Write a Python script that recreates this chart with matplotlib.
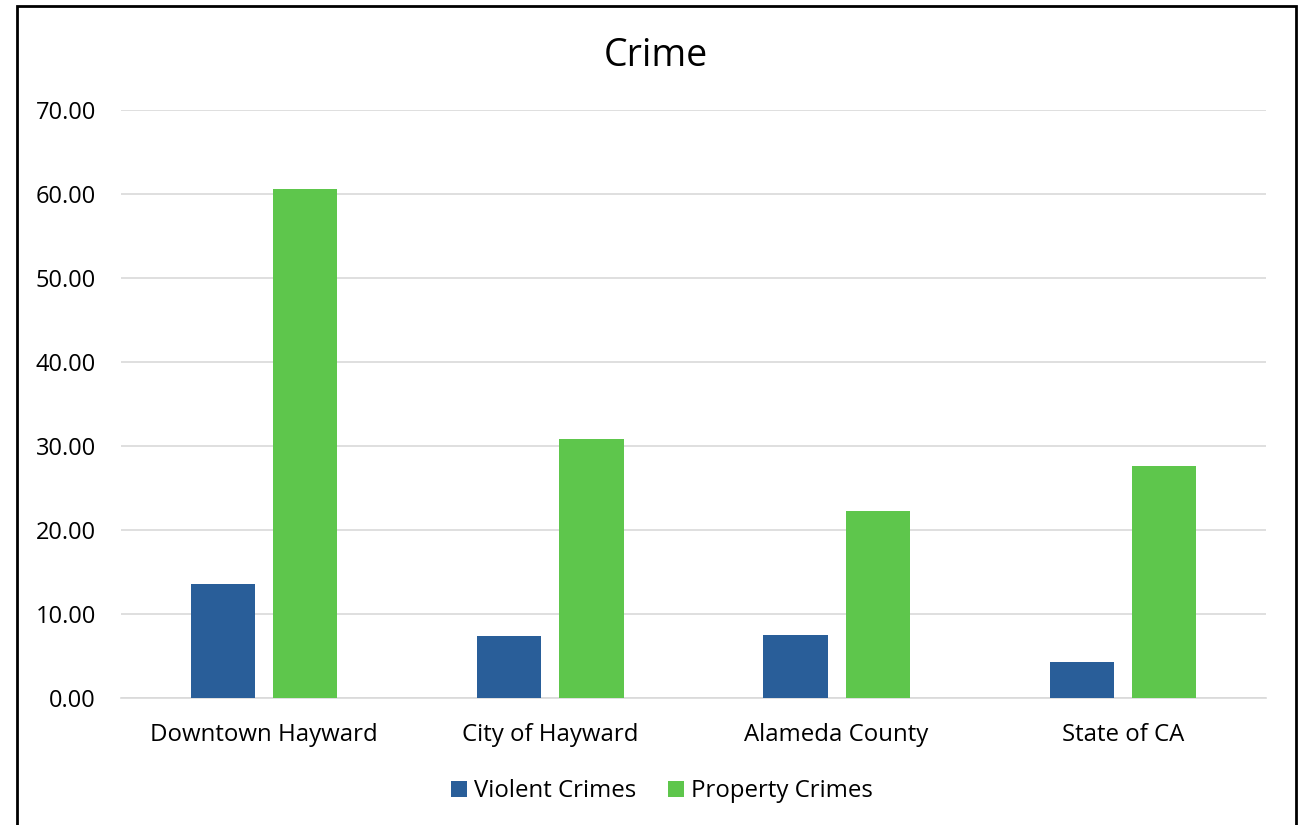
import numpy as np
import matplotlib.pyplot as plt
from matplotlib.patches import Rectangle

plt.rcParams['font.family'] = ['Open Sans', 'DejaVu Sans']

# data
categories = ['Downtown Hayward', 'City of Hayward', 'Alameda County', 'State of CA']
violent = [13.57, 7.38, 7.50, 4.29]
property_crimes = [60.60, 30.83, 22.26, 27.62]

blue = '#295e99'
green = '#5ec64c'

fig = plt.figure(figsize=(13.07, 8.25), dpi=100)
ax = fig.add_axes([0.0926, 0.1539, 0.876, 0.7127])

x = np.arange(len(categories))
w = 0.224
gap = 0.063
ax.bar(x - (w + gap) / 2, violent, w, color=blue, label='Violent Crimes', zorder=3)
ax.bar(x + (w + gap) / 2, property_crimes, w, color=green, label='Property Crimes', zorder=3)

ax.set_xlim(-0.5, len(categories) - 0.5)
ax.set_ylim(0, 70)
ax.set_yticks(np.arange(0, 71, 10))
ax.set_yticklabels([f'{v:.2f}' for v in np.arange(0, 71, 10)], fontsize=17)
ax.set_xticks(x)
ax.set_xticklabels(categories, fontsize=17.3)
ax.tick_params(axis='y', length=0, pad=18)
ax.tick_params(axis='x', length=0, pad=18)
ax.grid(axis='y', color='#d9d9d9', lw=1.2, zorder=0)
for s in ['top', 'right', 'left']:
    ax.spines[s].set_visible(False)
ax.spines['bottom'].set_color('#d9d9d9')
ax.spines['bottom'].set_linewidth(1.2)

fig.text(656 / 1307, 1 - 56 / 825, 'Crime', fontsize=27, ha='center', va='center')

fig.legend(loc='center', bbox_to_anchor=(662 / 1307, 1 - 791 / 825), ncol=2,
           frameon=False, fontsize=17.3, handlelength=0.65, handleheight=0.65,
           handletextpad=0.3, columnspacing=1.35)

# outer border
fig.patches.append(Rectangle((17 / 1307, -0.05), (1296 - 17) / 1307, 1.05 - 6 / 825,
                             transform=fig.transFigure, fill=False, ec='black', lw=2))

fig.savefig('out.png', dpi=100)
